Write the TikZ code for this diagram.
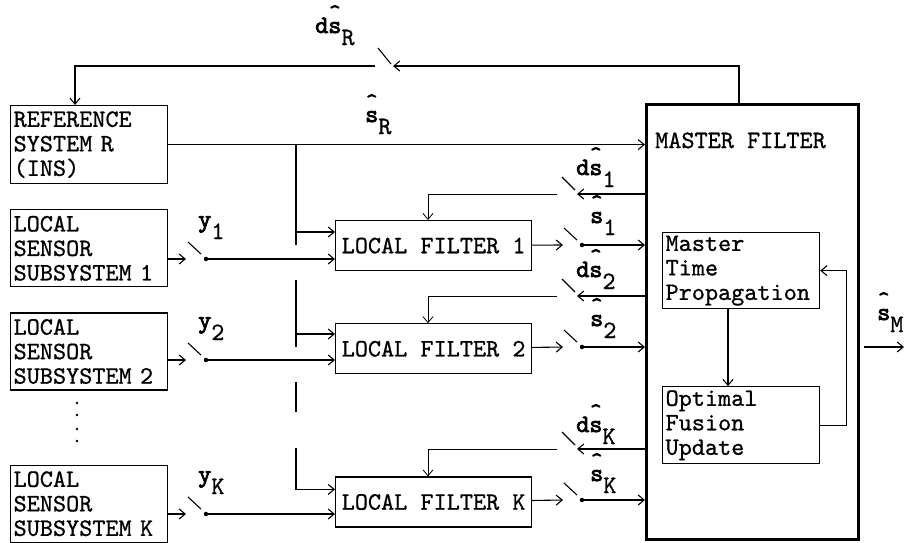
\documentclass[tikz,border=0pt]{standalone}
\usepackage{fontspec}
\setmonofont{lmmono10-regular.otf}[FakeBold=0.8,
  BoldFont=lmmono10-regular.otf, BoldFeatures={FakeBold=3}]
\usetikzlibrary{arrows.meta,positioning}

\newsavebox\hatbox
\newcommand{\hatted}[1]{\sbox\hatbox{#1}\makebox[0pt][l]{\makebox[\wd\hatbox]{\raisebox{14pt}[0pt][0pt]{\fontsize{22pt}{22pt}\selectfont\bfseries\textasciicircum}}}\usebox\hatbox}
\newcommand{\estlbl}[3]{\textbf{#1}\hatted{\textbf{#2}}\raisebox{-12pt}{#3}}
\newcommand{\siglbl}[2]{\textbf{#1}\raisebox{-12pt}{#2}}

\begin{document}
\begin{tikzpicture}[x=1pt, y=-1pt,
  font=\ttfamily\fontsize{25pt}{24.5pt}\selectfont,
  blk/.style={draw, line width=1.2pt, align=left, text width=151pt,
    inner xsep=3pt, inner ysep=0pt},
  lf/.style={draw, line width=1.2pt, minimum width=196pt,
    minimum height=50pt, inner sep=0pt},
  mbox/.style={draw, line width=2.6pt, minimum width=212pt,
    minimum height=435pt, inner sep=0pt},
  arr/.style={-{Straight Barb[length=6pt,width=10pt]}, line width=1.1pt},
  thinarr/.style={arr, line width=0.8pt},
  wire/.style={line width=1.1pt},
  blade/.style={line width=1.1pt},
  dot/.style={circle, fill, inner sep=0pt, minimum size=4.5pt},
  lbl/.style={inner sep=0pt, anchor=base west}
]
  \useasboundingbox (0,0) rectangle (906,542);

  % left column
  \node[blk, anchor=north west, minimum height=78pt] (ref) at (10,105)
    {REFERENCE\\SYSTEM R\\(INS)};
  \node[blk, below=25pt of ref, minimum height=77pt] (sen1)
    {LOCAL\\SENSOR\\SUBSYSTEM 1};
  \node[blk, below=25pt of sen1, minimum height=77pt] (sen2)
    {LOCAL\\SENSOR\\SUBSYSTEM 2};
  \node[blk, below=74pt of sen2, minimum height=77pt] (senK)
    {LOCAL\\SENSOR\\SUBSYSTEM K};
  \foreach \y in {403,415,429,441} \fill (77,\y) circle (1.4pt);

  % local filters
  \node[lf, anchor=north west] (lf1) at (335,220) {LOCAL FILTER 1};
  \node[lf, below=52pt of lf1] (lf2) {LOCAL FILTER 2};
  \node[lf, below=102pt of lf2] (lfK) {LOCAL FILTER K};

  % master filter
  \node[mbox, anchor=north west] (mf) at (645,103) {};
  \node[lbl] (mftitle) at (655,148) {MASTER FILTER};
  \node[blk, anchor=north west, minimum height=76pt] (mtp) at (662,232)
    {Master\\Time\\Propagation};
  \node[blk, below=77pt of mtp, minimum height=77pt] (ofu)
    {Optimal\\Fusion\\Update};
  \coordinate (mdown) at ([xshift=66pt]mtp.south west);
  \draw[arr] (mdown) -- (mdown |- ofu.north);
  \draw[arr] (ofu.east) -- ++(26pt,0) |- (mtp.east);
  \coordinate (mout) at (864,347);
  \draw[arr] (mout) -- ++(40pt,0);
  \node[lbl] (sM) at (877,320) {\estlbl{}{s}{M}};

  % reference system and its correction
  \coordinate (tap) at (296,144);
  \coordinate (swR) at (393,66);
  \draw[arr] (ref) -- (ref -| mf.west);
  \draw[arr] ([xshift=94pt]mf.north west) |- (swR);
  \draw[blade] (swR) ++(-15pt,18pt) -- ++(13pt,-16pt);
  \draw[arr] ([xshift=-18pt]swR) -| ([xshift=65pt]ref.north west);
  \node[lbl] (dsR) at (315,33) {\estlbl{d}{s}{R}};
  \node[lbl] (sR) at (365,122) {\estlbl{}{s}{R}};

  % bus to local filters
  \coordinate (g1) at (296,245);
  \coordinate (g2a) at (296,280);
  \coordinate (g2b) at (296,347);
  \coordinate (g3a) at (296,382);
  \coordinate (g3b) at (296,412);
  \coordinate (g4) at (296,448);
  \coordinate (b1) at (296,232);
  \coordinate (b2) at (296,334);
  \draw[wire] (tap) -- (g1);
  \draw[wire] (g2a) -- (g2b);
  \draw[wire] (g3a) -- (g3b);
  \draw[arr] (b1) -- (b1 -| lf1.west);
  \draw[arr] (b2) -- (b2 -| lf2.west);
  \draw[arr] (g4) |- ([yshift=-13pt]lfK.north west);

  % sensor switches
  \coordinate (tp1) at (186,259);
  \coordinate (tp2) at (186,360);
  \coordinate (tpK) at (186,514);
  \node[dot] (dt1) at (206,259) {};
  \node[dot] (dt2) at (206,360) {};
  \node[dot] (dtK) at (206,514) {};
  \draw[arr] (sen1.east |- tp1) -- (tp1);
  \draw[arr] (sen2.east |- tp2) -- (tp2);
  \draw[arr] (senK.east |- tpK) -- (tpK);
  \draw[blade] (tp1) ++(2pt,17pt) -- ++(13pt,-12pt);
  \draw[blade] (tp2) ++(2pt,17pt) -- ++(13pt,-12pt);
  \draw[blade] (tpK) ++(2pt,17pt) -- ++(13pt,-12pt);
  \draw[arr] (dt1) -- (dt1 -| lf1.west);
  \draw[arr] (dt2) -- (dt2 -| lf2.west);
  \draw[arr] (dtK) -- (dtK -| lfK.west);
  \node[lbl] (y1) at (198,227) {\siglbl{y}{1}};
  \node[lbl] (y2) at (198,328) {\siglbl{y}{2}};
  \node[lbl] (yK) at (198,482) {\siglbl{y}{K}};

  % local filter outputs
  \coordinate (to1) at (563,245);
  \coordinate (to2) at (563,347);
  \coordinate (toK) at (563,500);
  \node[dot] (od1) at (582,245) {};
  \node[dot] (od2) at (582,347) {};
  \node[dot] (odK) at (582,500) {};
  \draw[arr] (lf1) -- (to1);
  \draw[arr] (lf2) -- (to2);
  \draw[arr] (lfK) -- (toK);
  \draw[blade] (to1) ++(1pt,17pt) -- ++(13pt,-12pt);
  \draw[blade] (to2) ++(1pt,17pt) -- ++(13pt,-12pt);
  \draw[blade] (toK) ++(1pt,17pt) -- ++(13pt,-12pt);
  \draw[arr] (od1) -- (od1 -| mf.west);
  \draw[arr] (od2) -- (od2 -| mf.west);
  \draw[arr] (odK) -- (odK -| mf.west);
  \node[lbl] (s1) at (590,223) {\estlbl{}{s}{1}};
  \node[lbl] (s2) at (590,326) {\estlbl{}{s}{2}};
  \node[lbl] (sK) at (590,481) {\estlbl{}{s}{K}};

  % corrections back to local filters
  \coordinate (fb1) at (577,194);
  \coordinate (fb2) at (577,296);
  \coordinate (fbK) at (577,449);
  \draw[arr] (fb1 -| mf.west) -- (fb1);
  \draw[arr] (fb2 -| mf.west) -- (fb2);
  \draw[arr] (fbK -| mf.west) -- (fbK);
  \draw[blade] (fb1) ++(-15pt,17pt) -- ++(13pt,-13pt);
  \draw[blade] (fb2) ++(-15pt,17pt) -- ++(13pt,-13pt);
  \draw[blade] (fbK) ++(-15pt,17pt) -- ++(13pt,-13pt);
  \draw[thinarr] ([xshift=-20pt]fb1) -| ([xshift=93pt]lf1.north west);
  \draw[thinarr] ([xshift=-20pt]fb2) -| ([xshift=93pt]lf2.north west);
  \draw[thinarr] ([xshift=-20pt]fbK) -| ([xshift=93pt]lfK.north west);
  \node[lbl] (ds1) at (576,175) {\estlbl{d}{s}{1}};
  \node[lbl] (ds2) at (576,277) {\estlbl{d}{s}{2}};
  \node[lbl] (dsK) at (576,432) {\estlbl{d}{s}{K}};
\end{tikzpicture}
\end{document}
